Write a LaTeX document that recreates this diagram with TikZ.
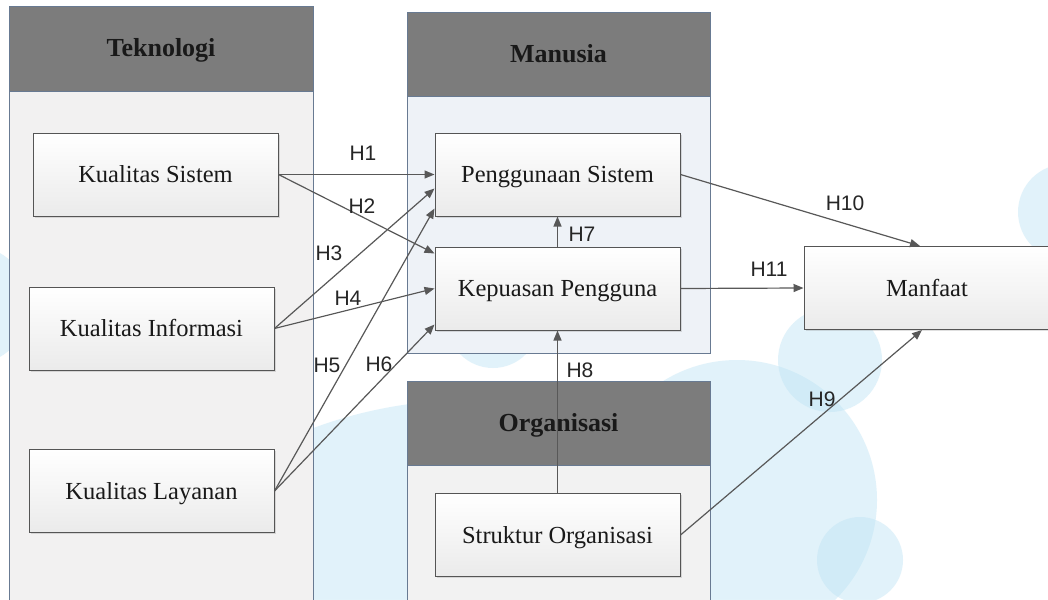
\documentclass[tikz,border=0pt]{standalone}
\usepackage{fontspec}
\setmainfont{Liberation Serif}
\newfontfamily\labelfont{Liberation Sans}
\usetikzlibrary{arrows.meta,shadows}

\definecolor{framecol}{RGB}{104,122,146}
\definecolor{headcol}{RGB}{124,124,124}
\definecolor{bodyA}{RGB}{242,241,241}
\definecolor{bodyB}{RGB}{238,242,247}
\definecolor{bodyC}{RGB}{242,242,242}
\definecolor{boxline}{RGB}{85,85,85}
\definecolor{arrowcol}{RGB}{88,88,88}
\definecolor{bubble}{RGB}{190,228,245}

\begin{document}
\begin{tikzpicture}[x=1pt,y=-1pt,
  ibox/.style={draw=boxline, line width=1pt, top color=white, bottom color=black!8,
    minimum width=245pt, minimum height=83pt, inner sep=0pt,
    text height=16pt, text depth=0pt,
    font=\fontsize{24.5}{27}\selectfont, text=black!90,
    drop shadow={shadow xshift=1.5pt, shadow yshift=-1.5pt, opacity=0.25}},
  cframe/.style={draw=framecol, line width=1pt},
  chead/.style={fill=headcol, draw=framecol, line width=1pt},
  ctitle/.style={font=\fontsize{26}{29}\selectfont\bfseries, text=black!90, inner sep=0pt,
    text height=17pt, text depth=0pt},
  hlab/.style={font=\labelfont\fontsize{21}{24}\selectfont, text=black!85, inner sep=0pt},
  link/.style={draw=arrowcol, line width=1.2pt, -{Triangle[length=10pt,width=8pt]}},
  bub/.style={fill=bubble, fill opacity=0.45, draw=none}
]
\useasboundingbox (0,0) rectangle (1048,599);
\fill[white] (0,0) rectangle (1048,599);
\begin{scope}
\clip (0,0) rectangle (1048,599);

% decorative bubbles
\fill[bub] (-30,305) circle[radius=60];
\begin{scope}
  \clip (300,380) rectangle (420,599);
  \fill[bub] (470,850) circle[radius=450];
\end{scope}
\fill[bub] (493,322) circle[radius=46];
\fill[bub] (737,500) circle[radius=140];
\fill[bub] (830,360) circle[radius=52];
\fill[bub] (860,560) circle[radius=43];
\fill[bub] (1066,212) circle[radius=48];

% group frames
\filldraw[cframe, fill=bodyA] (9,7) rectangle (313,620);
\filldraw[chead] (9,7) rectangle (313,92);
\filldraw[cframe, fill=bodyB] (407,13) rectangle (710,353);
\filldraw[chead] (407,13) rectangle (710,97);
\filldraw[cframe, fill=bodyC] (407,381) rectangle (710,620);
\filldraw[chead] (407,381) rectangle (710,465);

\node[ctitle] (tek) at (161,48) {Teknologi};
\node[ctitle] (man) at (558.5,54) {Manusia};
\node[ctitle] (org) at (558.5,423) {Organisasi};

% constructs
\node[ibox] (ks) at (155.5,174.5) {Kualitas Sistem};
\node[ibox] (ki) at (151.5,328.5) {Kualitas Informasi};
\node[ibox] (kl) at (151.5,491) {Kualitas Layanan};
\node[ibox] (pg) at (557.5,174.5) {Penggunaan Sistem};
\node[ibox] (kp) at (557.5,288.5) {Kepuasan Pengguna};
\node[ibox] (so) at (557.5,535) {Struktur Organisasi};
\node[ibox, minimum width=246pt] (mf) at (927,288) {Manfaat};

% hypotheses
\draw[link] (ks.east) -- (pg.west);
\draw[link] (ks.east) -- ([yshift=35pt]kp.west);
\draw[link] (ki.east) -- ([yshift=-14pt]pg.west);
\draw[link] (ki.east) -- (kp.west);
\draw[link] (kl.east) -- ([yshift=-34pt]pg.west);
\draw[link] (kl.east) -- ([yshift=-36pt]kp.west);
\draw[link] (kp.north) -- (pg.south);
\draw[link] (so.north) -- (kp.south);
\draw[link] (so.east) -- ([xshift=-5pt]mf.south);
\draw[link] (pg.east) -- ([xshift=-7pt]mf.north);
\draw[link] (kp.east) -- (mf.west);

\node[hlab] (h1) at (363,153) {H1};
\node[hlab] (h2) at (362,206) {H2};
\node[hlab] (h3) at (329,253) {H3};
\node[hlab] (h4) at (348,298) {H4};
\node[hlab] (h5) at (327,365) {H5};
\node[hlab] (h6) at (379,364) {H6};
\node[hlab] (h7) at (582,234) {H7};
\node[hlab] (h8) at (580,370) {H8};
\node[hlab] (h9) at (822,399) {H9};
\node[hlab] (h10) at (845,203) {H10};
\node[hlab] (h11) at (769,269) {H11};
\end{scope}
\end{tikzpicture}
\end{document}
